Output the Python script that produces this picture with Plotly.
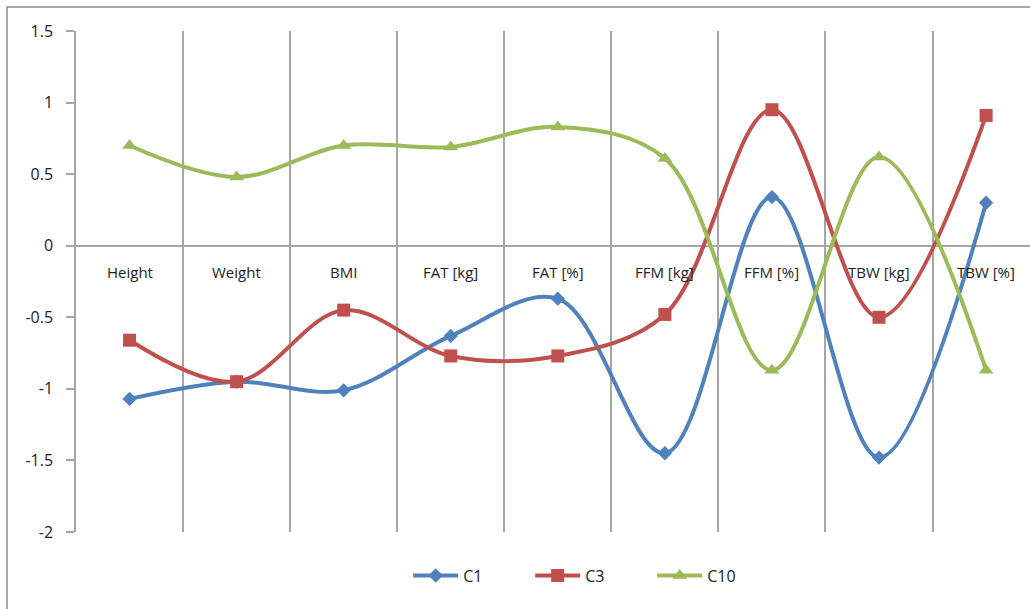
import plotly.graph_objects as go

categories = ["Height", "Weight", "BMI", "FAT [kg]", "FAT [%]",
              "FFM [kg]", "FFM [%]", "TBW [kg]", "TBW [%]"]
c1 = [-1.07, -0.95, -1.01, -0.63, -0.37, -1.45, 0.34, -1.48, 0.30]
c3 = [-0.66, -0.95, -0.45, -0.77, -0.77, -0.48, 0.95, -0.50, 0.91]
c10 = [0.70, 0.48, 0.70, 0.69, 0.83, 0.61, -0.87, 0.62, -0.87]
y_ticks = [-2, -1.5, -1, -0.5, 0, 0.5, 1, 1.5]

series = [
    ("C1", c1, "#4F81BD", "diamond", 11),
    ("C3", c3, "#C0504D", "square", 13),
    ("C10", c10, "#9BBB59", "triangle-up", 13),
]

xpos = list(range(len(categories)))
font_family = "Open Sans, Liberation Sans, sans-serif"

fig = go.Figure()
for name, vals, color, symbol, msize in series:
    fig.add_trace(go.Scatter(
        x=xpos, y=vals, name=name, mode="lines+markers",
        line=dict(color=color, width=4, shape="spline", smoothing=1),
        marker=dict(symbol=symbol, size=msize, color=color),
    ))

# category labels sit just under the zero line
for i, cat in enumerate(categories):
    fig.add_annotation(x=i, y=0, text=cat, showarrow=False, yanchor="top",
                       yshift=-14, font=dict(size=15, color="#222222", family=font_family))

# outer frame of the chart
fig.add_shape(type="rect", xref="paper", yref="paper",
              x0=(7 - 76) / 954, x1=1.2, y0=-0.3, y1=(532 - 7) / 501,
              line=dict(color="#8c8c8c", width=1.5), fillcolor="rgba(0,0,0,0)", layer="below")

fig.update_layout(
    width=1030, height=609,
    margin=dict(l=76, r=0, t=31, b=77),
    plot_bgcolor="white", paper_bgcolor="white",
    font=dict(family=font_family, size=15, color="#222222"),
    showlegend=True,
    legend=dict(orientation="h", x=0.54, xanchor="center", y=-0.087, yanchor="middle",
                font=dict(size=16), itemwidth=45, entrywidth=62, entrywidthmode="pixels"),
    xaxis=dict(range=[-0.5, 8.41], tickvals=[i + 0.5 for i in range(len(categories) - 1)],
               showticklabels=False, showgrid=True, gridcolor="#a6a6a6", gridwidth=1.5,
               zeroline=False, showline=False, ticks=""),
    yaxis=dict(range=[-2, 1.5], tickvals=y_ticks, ticktext=[f"{v:g}" for v in y_ticks],
               showgrid=False, zeroline=True, zerolinecolor="#a6a6a6", zerolinewidth=1.5,
               showline=True, linecolor="#a6a6a6", linewidth=1.5,
               ticks="outside", ticklen=8, tickcolor="#a6a6a6", tickwidth=1.5,
               tickfont=dict(size=16), ticklabelstandoff=10),
)

fig.write_html("out.html")
